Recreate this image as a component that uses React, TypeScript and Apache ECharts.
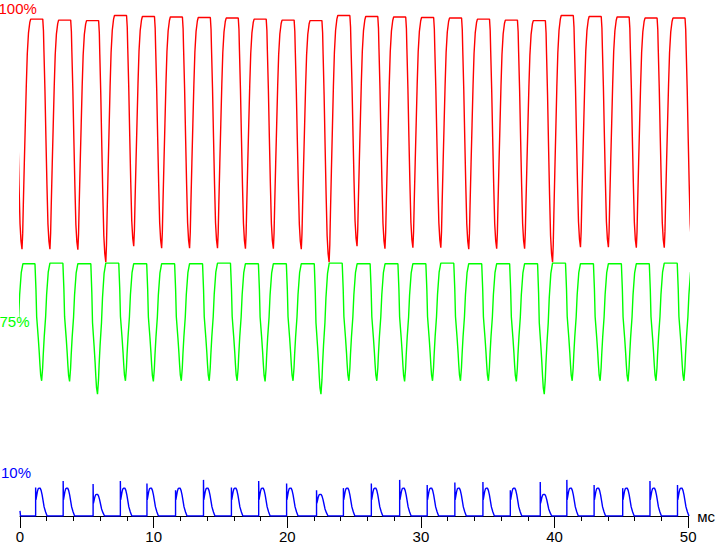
import React, { useEffect, useRef } from "react";
import * as echarts from "echarts";

// ---- axis ----
const xMin = 0;
const xMax = 50;
const xInterval = 10;
const xUnit = "мс";

// ---- trace labels / colours ----
const traceNames = ["100%", "75%", "10%"];
const traceColors = ["#ff0000", "#00ff00", "#0000ff"];

// ---- red trace (100%) : dip times (ms), dip levels, plateau levels (before each dip, plus after last) ----
const redDipTimes = [0.15, 2.24, 4.33, 6.42, 8.51, 10.6, 12.69, 14.78, 16.87, 18.96, 21.05, 23.13, 25.22, 27.31, 29.4, 31.49, 33.58, 35.67, 37.76, 39.85, 41.94, 44.03, 46.12, 48.21, 50.3];
const redDipLevels = [51.7, 51.7, 51.6, 49.2, 52.3, 51.9, 51.9, 51.9, 51.8, 51.8, 51.7, 49.2, 52.3, 51.8, 52.0, 52.0, 51.7, 51.8, 51.8, 49.2, 52.1, 52.1, 52.0, 52.0, 51.7];
const redTopLevels = [96.5, 96.3, 96.1, 96.0, 97.0, 96.8, 96.7, 96.6, 96.5, 96.3, 96.1, 96.0, 97.0, 96.8, 96.7, 96.6, 96.5, 96.3, 96.1, 96.0, 97.0, 96.8, 96.7, 96.5, 96.5, 96.5];
// edge shapes: [ms from dip, fraction of the way from plateau to dip]
const redFallShape = [[-0.537, 0], [-0.485, 0.05], [-0.448, 0.14], [-0.373, 0.31], [-0.299, 0.52], [-0.224, 0.72], [-0.149, 0.89], [-0.075, 0.965]];
const redRiseShape = [[0, 1], [0.052, 0.93], [0.097, 0.81], [0.172, 0.63], [0.246, 0.46], [0.321, 0.29], [0.396, 0.15], [0.485, 0.06], [0.582, 0.015], [0.649, 0]];

// ---- green trace (75%) ----
const greenDipTimes = [-0.4, 1.62, 3.71, 5.8, 7.89, 9.98, 12.07, 14.16, 16.25, 18.34, 20.43, 22.52, 24.61, 26.7, 28.78, 30.87, 32.96, 35.05, 37.14, 39.23, 41.32, 43.41, 45.5, 47.59, 49.68];
const greenDipLevels = [26.2, 26.2, 26.1, 23.6, 26.2, 26.1, 26.2, 26.2, 26.2, 26.1, 26.2, 23.6, 26.2, 26.2, 26.1, 26.2, 26.2, 26.2, 26.1, 23.6, 26.2, 26.2, 26.1, 26.2, 26.2];
const greenTopLevels = [48.9, 48.9, 49.0, 48.9, 49.0, 48.9, 48.9, 48.9, 49.0, 48.9, 48.9, 48.9, 49.0, 48.9, 48.9, 48.9, 49.0, 48.9, 48.9, 48.9, 49.0, 48.9, 48.9, 48.9, 49.0, 48.9];
const greenFallShape = [[-0.5, 0], [-0.425, 0.222], [-0.373, 0.453], [-0.254, 0.632], [-0.179, 0.76], [-0.127, 0.863], [-0.075, 0.949]];
const greenRiseShape = [[0, 1], [0.075, 0.889], [0.119, 0.778], [0.194, 0.624], [0.299, 0.453], [0.373, 0.265], [0.493, 0.077], [0.619, 0]];

// ---- blue trace (10%) : pulse start times, spike tops, hump heights ----
const blueStartLevel = 1.0;
const bluePulseStarts = [1.17, 3.23, 5.47, 7.51, 9.5, 11.64, 13.73, 15.82, 17.86, 19.95, 22.19, 24.2, 26.29, 28.41, 30.47, 32.54, 34.64, 36.69, 38.93, 40.92, 42.96, 45.1, 47.14, 49.2];
const blueSpikes = [5.5, 6.8, 6.2, 6.8, 6.3, 5.0, 7.0, 5.5, 6.8, 6.3, 5.0, 5.4, 6.3, 7.0, 6.0, 6.5, 6.6, 5.0, 6.6, 7.0, 6.0, 5.4, 6.8, 6.0];
const blueHumps = [5.4, 5.4, 4.2, 5.4, 5.4, 5.4, 5.4, 5.4, 5.4, 5.4, 4.2, 5.4, 5.4, 5.4, 5.4, 5.4, 5.4, 5.4, 4.2, 5.4, 5.4, 5.4, 5.4, 5.4];
const bluePulseShape = [[0.022, 0.578], [0.075, 0.722], [0.127, 0.866], [0.187, 0.975], [0.261, 1], [0.336, 1], [0.41, 0.92], [0.485, 0.758], [0.56, 0.542], [0.634, 0.325], [0.746, 0.144], [0.858, 0]];

function buildWave(dips: number[], levels: number[], tops: number[], fall: number[][], rise: number[][]) {
  const pts: number[][] = [];
  dips.forEach((t, i) => {
    const lo = levels[i];
    const before = tops[i];
    const after = tops[i + 1];
    fall.forEach(([dt, f]) => pts.push([+(t + dt).toFixed(3), +(before + (lo - before) * f).toFixed(2)]));
    rise.forEach(([dt, f]) => pts.push([+(t + dt).toFixed(3), +(after + (lo - after) * f).toFixed(2)]));
  });
  return pts;
}

function buildPulses() {
  const pts: number[][] = [[0, blueStartLevel], [0.04, 0]];
  bluePulseStarts.forEach((s, i) => {
    pts.push([s, 0], [s, blueSpikes[i]]);
    bluePulseShape.forEach(([dt, f]) => pts.push([+(s + dt).toFixed(3), +(blueHumps[i] * f).toFixed(2)]));
  });
  return pts;
}

const FONT = '"Liberation Sans", Arial, sans-serif';

export default function App() {
  const ref = useRef<HTMLDivElement>(null);
  useEffect(() => {
    if (!ref.current) return;
    const chart = echarts.init(ref.current, null, { renderer: "svg" });
    const lineBase = (name: string, color: string, data: number[][]) => ({
      type: "line",
      name,
      data,
      showSymbol: false,
      symbol: "none",
      clip: true,
      lineStyle: { color, width: 1.4 },
      itemStyle: { color },
      emphasis: { disabled: true },
    });
    chart.setOption({
      animation: false,
      backgroundColor: "#ffffff",
      grid: { left: 20, right: 28, top: 0, bottom: 28, containLabel: false },
      xAxis: {
        type: "value",
        min: xMin,
        max: xMax,
        interval: xInterval,
        name: xUnit,
        nameLocation: "end",
        nameGap: 9,
        nameTextStyle: { color: "#000", fontSize: 15, fontFamily: FONT, padding: [4, 0, 0, 0] },
        axisLine: { show: true, lineStyle: { color: "#000", width: 1 } },
        axisTick: { show: true, length: 12, lineStyle: { color: "#000", width: 1 } },
        minorTick: { show: true, splitNumber: 5, length: 5, lineStyle: { color: "#000", width: 1 } },
        axisLabel: { color: "#000", fontSize: 15, fontFamily: FONT, margin: 13 },
        splitLine: { show: false },
        minorSplitLine: { show: false },
      },
      yAxis: { type: "value", min: 0, max: 100, show: false, splitLine: { show: false } },
      series: [
        lineBase(traceNames[0], traceColors[0], buildWave(redDipTimes, redDipLevels, redTopLevels, redFallShape, redRiseShape)),
        lineBase(traceNames[1], traceColors[1], buildWave(greenDipTimes, greenDipLevels, greenTopLevels, greenFallShape, greenRiseShape)),
        lineBase(traceNames[2], traceColors[2], buildPulses()),
      ],
      graphic: [
        { type: "text", x: -1.5, y: 8, style: { text: traceNames[0], fill: traceColors[0], fontSize: 15, fontFamily: FONT, align: "left", verticalAlign: "middle" } },
        { type: "text", x: -0.5, y: 321, style: { text: traceNames[1], fill: traceColors[1], fontSize: 15, fontFamily: FONT, align: "left", verticalAlign: "middle" } },
        { type: "text", x: 1, y: 472, style: { text: traceNames[2], fill: traceColors[2], fontSize: 15, fontFamily: FONT, align: "left", verticalAlign: "middle" } },
      ],
    });
    return () => chart.dispose();
  }, []);
  return <div ref={ref} style={{ position: "fixed", left: 0, top: 0, width: 718, height: 544, background: "#fff" }} />;
}
